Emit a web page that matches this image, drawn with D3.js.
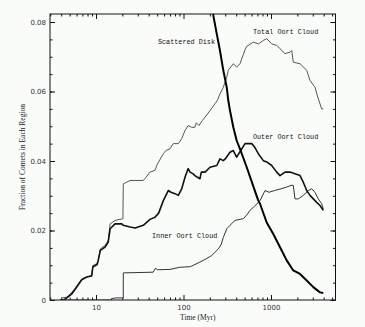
<!DOCTYPE html>
<html>
<head>
<meta charset="utf-8">
<script src="https://cdn.jsdelivr.net/npm/d3@7"></script>
<style>
  body { margin: 0; background: #fafcfa; }
  svg { display: block; }
  .tick text { font-family: "DejaVu Sans", sans-serif; font-size: 7px; fill: #333; }
  .lbl { font-family: "Liberation Mono", monospace; font-size: 6.8px; fill: #111; }
  .ttl { font-family: "Liberation Serif", serif; font-size: 7.5px; fill: #222; }
</style>
</head>
<body>
<svg id="chart" width="365" height="327"></svg>
<script>
// time in Myr, fraction of comets
const totalOort = [
  [3.9, 0], [4.05, 0], [4.05, 0.0006], [4.62, 0.0008], [5.27, 0.0022], [5.75, 0.0033], [6.87, 0.0061],
  [7.83, 0.0066], [8.93, 0.0071], [9.2, 0.0099], [10.3, 0.0105], [10.6, 0.0114], [11.2, 0.0147], [12.7, 0.0157],
  [13.8, 0.0171], [14.5, 0.0219], [16.5, 0.0229], [20.3, 0.0234], [20.5, 0.0334], [24.5, 0.0344],
  [34.7, 0.0344], [37, 0.0352], [41.4, 0.0368], [47.2, 0.0373], [50, 0.039], [58.8, 0.0421],
  [63, 0.043], [70, 0.0435], [76.4, 0.045], [87.2, 0.045], [95.4, 0.0464], [104, 0.0488],
  [113, 0.0502], [124, 0.0497], [135, 0.0497], [140, 0.051], [150, 0.0502], [165, 0.0517],
  [176, 0.0526], [201, 0.0545], [229, 0.0565], [243, 0.0574], [261, 0.0593], [285, 0.0612],
  [312, 0.0641], [325, 0.0661], [371, 0.068], [405, 0.067], [442, 0.068], [505, 0.072],
  [528, 0.073], [628, 0.0742], [720, 0.0737], [817, 0.0747], [893, 0.0752], [1019, 0.0737],
  [1162, 0.0733], [1268, 0.0723], [1445, 0.0709], [1649, 0.0713], [1724, 0.0718], [1798, 0.0684],
  [2145, 0.068], [2559, 0.0661], [2791, 0.0632], [3184, 0.0612], [3473, 0.0579], [3797, 0.055],
  [3960, 0.055]
]
const outerOort = [
  [3.9, 0], [4.3, 0], [4.62, 0.0006], [5.27, 0.0017], [5.75, 0.003], [6.87, 0.0058],
  [7.83, 0.0066], [8.93, 0.0069], [9.2, 0.0095], [10.3, 0.0102], [10.6, 0.0114], [11.2, 0.0143], [12.7, 0.0152],
  [13.8, 0.0167], [14.5, 0.0205], [16.5, 0.0219], [19.7, 0.0219], [20.5, 0.0215], [24.5, 0.021],
  [28, 0.0207], [34.7, 0.0215], [41.4, 0.0232], [47.2, 0.0238], [52, 0.025], [58.8, 0.0286],
  [67, 0.0315], [72, 0.031], [80, 0.0306], [87.2, 0.0301], [95.4, 0.032], [104, 0.0353],
  [113, 0.0378], [119, 0.0368], [129, 0.0363], [135, 0.0358], [154, 0.0349], [160, 0.0368],
  [176, 0.0368], [201, 0.0382], [240, 0.0387], [261, 0.0406], [285, 0.0401], [300, 0.0406],
  [340, 0.0425], [371, 0.043], [405, 0.0411], [463, 0.0435], [505, 0.045], [602, 0.045],
  [650, 0.044], [716, 0.0421], [817, 0.0401], [900, 0.0397], [1019, 0.0387], [1162, 0.0368],
  [1268, 0.0358], [1445, 0.0368], [1650, 0.0368], [1880, 0.0363], [2145, 0.0358], [2339, 0.0339],
  [2559, 0.0315], [2791, 0.0301], [3044, 0.0291], [3330, 0.0281], [3631, 0.0272], [3960, 0.0258]
]
const innerOort = [
  [3.9, 0], [15, 0], [15, 0.0004], [17, 0.0006], [20.5, 0.0006], [20.5, 0.0078], [45, 0.008],
  [48, 0.0092], [50, 0.0087], [70, 0.0088], [90, 0.0094], [120, 0.0096], [154, 0.0109],
  [180, 0.0118], [210, 0.0128], [250, 0.0147], [270, 0.016], [285, 0.018], [312, 0.0205],
  [340, 0.0215], [387, 0.0229], [482, 0.0234], [530, 0.0245], [575, 0.0258], [650, 0.027],
  [749, 0.0286], [855, 0.0315], [950, 0.031], [1100, 0.0315], [1300, 0.032], [1511, 0.0325],
  [1700, 0.033], [1798, 0.033], [1880, 0.0291], [2051, 0.0291], [2339, 0.0301], [2669, 0.0315],
  [2918, 0.032], [3184, 0.031], [3473, 0.0291], [3797, 0.0277], [3960, 0.0262]
]
const scatteredDisk = [
  [210, 0.09], [219, 0.0819], [240, 0.0766], [261, 0.0718], [285, 0.0661], [312, 0.0612],
  [325, 0.0574], [340, 0.0545], [371, 0.0497], [405, 0.0459], [442, 0.0435], [528, 0.0382],
  [628, 0.0327], [716, 0.0286], [749, 0.0277], [893, 0.0223], [1062, 0.019], [1268, 0.0152],
  [1511, 0.0114], [1798, 0.0085], [2145, 0.0075], [2559, 0.0056], [3044, 0.0037], [3631, 0.0022],
  [3960, 0.002]
]

const xMajor = [10, 100, 1000]
const xMinor = [3, 4, 5, 6, 7, 8, 9, 20, 30, 40, 50, 60, 70, 80, 90,
  200, 300, 400, 500, 600, 700, 800, 900, 2000, 3000, 4000, 5000]
const yMajor = [0, 0.02, 0.04, 0.06, 0.08]
const yMinor = d3.range(0, 0.0821, 0.005)

const labels = [
  { text: 'Scattered Disk', t: 51, v: 0.0738 },
  { text: 'Total Oort Cloud', t: 622, v: 0.0766 },
  { text: 'Outer Oort Cloud', t: 622, v: 0.0463 },
  { text: 'Inner Oort Cloud', t: 43.7, v: 0.0177 }
]

const plotL = 50, plotR = 335.5, plotT = 14, plotB = 300

const x = d3.scaleLog().domain([2.98, 5460]).range([plotL, plotR])
const y = d3.scaleLinear().domain([0, 0.08]).range([plotB, plotB - 278])

const svg = d3.select('#chart')

svg.append('defs').append('clipPath').attr('id', 'clip')
  .append('rect').attr('x', plotL).attr('y', plotT)
  .attr('width', plotR - plotL).attr('height', plotB - plotT)

function addAxis (axis, transform, labelled) {
  const g = svg.append('g').attr('transform', transform).call(axis)
  g.select('.domain').remove()
  g.selectAll('line').attr('stroke', '#111')
  if (!labelled) g.selectAll('text').remove()
  return g
}

// bottom / top ticks
addAxis(d3.axisBottom(x).tickValues(xMajor).tickSize(-5).tickPadding(5).tickFormat(d3.format('d')),
  `translate(0,${plotB})`, true)
addAxis(d3.axisBottom(x).tickValues(xMinor).tickSize(-2.5), `translate(0,${plotB})`, false)
addAxis(d3.axisTop(x).tickValues(xMajor).tickSize(-5), `translate(0,${plotT})`, false)
addAxis(d3.axisTop(x).tickValues(xMinor).tickSize(-2.5), `translate(0,${plotT})`, false)

// left / right ticks
addAxis(d3.axisLeft(y).tickValues(yMajor).tickSize(-5).tickPadding(4)
  .tickFormat(d => d === 0 ? '0' : d3.format('.2f')(d)), `translate(${plotL},0)`, true)
addAxis(d3.axisLeft(y).tickValues(yMinor).tickSize(-2.5), `translate(${plotL},0)`, false)
addAxis(d3.axisRight(y).tickValues(yMajor).tickSize(-5), `translate(${plotR},0)`, false)
addAxis(d3.axisRight(y).tickValues(yMinor).tickSize(-2.5), `translate(${plotR},0)`, false)

svg.append('rect')
  .attr('x', plotL).attr('y', plotT)
  .attr('width', plotR - plotL).attr('height', plotB - plotT)
  .attr('fill', 'none').attr('stroke', '#111').attr('stroke-width', 1)

const line = d3.line()
  .x(d => x(d[0]))
  .y(d => y(d[1]))

const series = [
  { data: totalOort, color: '#555', width: 1 },
  { data: innerOort, color: '#333', width: 1 },
  { data: outerOort, color: '#111', width: 1.6 },
  { data: scatteredDisk, color: '#000', width: 2 }
]

svg.append('g').attr('clip-path', 'url(#clip)')
  .selectAll('path')
  .data(series)
  .join('path')
  .attr('d', d => line(d.data))
  .attr('fill', 'none')
  .attr('stroke', d => d.color)
  .attr('stroke-width', d => d.width)
  .attr('stroke-linejoin', 'round')

svg.selectAll('.lbl')
  .data(labels)
  .join('text')
  .attr('class', 'lbl')
  .attr('x', d => x(d.t))
  .attr('y', d => y(d.v))
  .text(d => d.text)

svg.append('text').attr('class', 'ttl')
  .attr('x', (plotL + plotR) / 2 + 5).attr('y', 320)
  .attr('text-anchor', 'middle')
  .text('Time (Myr)')

svg.append('text').attr('class', 'ttl')
  .attr('transform', `translate(25,${(plotT + plotB) / 2}) rotate(-90)`)
  .attr('text-anchor', 'middle')
  .text('Fraction of Comets in Each Region')
</script>
</body>
</html>
